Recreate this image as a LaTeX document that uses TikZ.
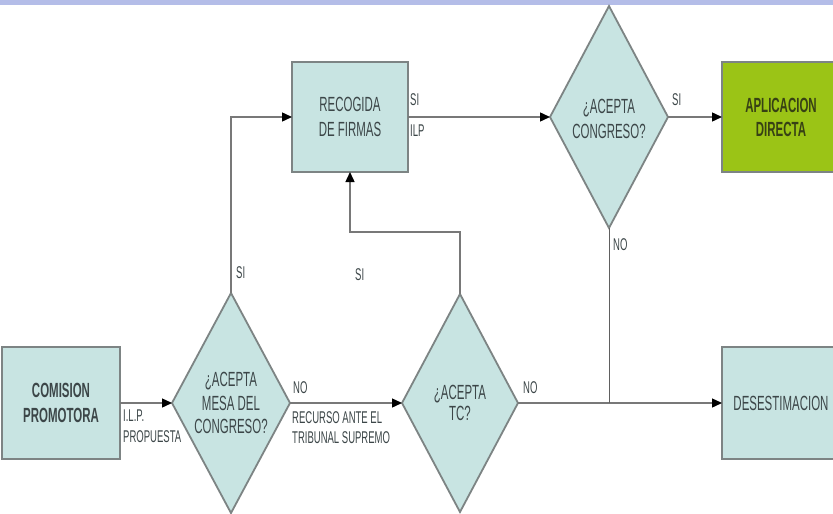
\documentclass[tikz,border=0pt]{standalone}
\usepackage{fontspec}
\setmainfont{Liberation Sans}[FakeStretch=0.56]
\usetikzlibrary{shapes.geometric,arrows.meta}
\definecolor{boxfill}{RGB}{200,228,226}
\definecolor{boxline}{RGB}{125,132,132}
\definecolor{txt}{RGB}{60,70,72}
\definecolor{greenfill}{RGB}{155,196,22}
\definecolor{greentxt}{RGB}{55,65,20}
\definecolor{band}{RGB}{180,189,232}
\definecolor{wirec}{RGB}{120,120,120}
\begin{document}
\begin{tikzpicture}[x=1pt,y=-1pt,
 box/.style={rectangle,draw=boxline,line width=2.2pt,fill=boxfill,inner sep=0pt,outer sep=0pt,align=center,text=txt,font=\fontsize{20.5}{25}\selectfont},
 dec/.style={diamond,draw=boxline,line width=1.8pt,fill=boxfill,inner sep=0pt,outer sep=0pt},
 dectext/.style={align=center,inner sep=0pt,text=txt,font=\fontsize{20.5}{23.5}\selectfont},
 lbl/.style={anchor=west,inner sep=0pt,text=txt,font=\fontsize{17}{20}\selectfont,align=left},
 wire/.style={draw=wirec,line width=1.4pt},
 thinwire/.style={draw=wirec!80!black,line width=1pt},
 arr/.style={wire,-{Triangle[length=10pt,width=9pt,color=black]}}
]
\useasboundingbox (0,0) rectangle (833,514);
\clip (0,0) rectangle (833,514);
\fill[white] (0,0) rectangle (833,514);
\fill[band] (0,0) rectangle (833,5);

% boxes
\node[box,minimum width=118pt,minimum height=112pt,font=\fontsize{20.5}{25}\selectfont\bfseries] (com) at (61,403) {COMISION\\PROMOTORA};
\node[box,minimum width=116pt,minimum height=110pt] (rec) at (350,117) {RECOGIDA\\DE FIRMAS};
\node[box,fill=greenfill,text=greentxt,minimum width=118pt,minimum height=110pt,font=\fontsize{20.5}{24}\selectfont\bfseries] (apl) at (781,117) {APLICACION\\DIRECTA};
\node[box,minimum width=118pt,minimum height=112pt] (des) at (781,403) {DESESTIMACION};

% decisions
\node[dec,minimum width=118pt,minimum height=220pt] (mesa) at (231,403) {};
\node[dectext] (mesat) at (mesa.center) {¿ACEPTA\\MESA DEL\\CONGRESO?};
\node[dec,minimum width=116pt,minimum height=218pt] (tc) at (460,403) {};
\node[dectext,font=\fontsize{20.5}{21}\selectfont] (tct) at (tc.center) {¿ACEPTA\\TC?};
\node[dec,minimum width=118pt,minimum height=222pt] (cong) at (609,117) {};
\node[dectext,font=\fontsize{20.5}{25}\selectfont] (congt) at ([yshift=-2pt]cong.center) {¿ACEPTA\\CONGRESO?};

% connectors
\draw[arr] (com.east) -- (mesa.west);
\draw[arr] (mesa.east) -- (tc.west);
\draw[arr] (tc.east) -- (des.west);
\draw[arr] (mesa.north) |- (rec.west);
\draw[arr] (rec.east) -- (cong.west);
\draw[arr] (cong.east) -- (apl.west);
\coordinate (k) at (0,232);
\draw[arr] (tc.north) -- (tc.north |- k) -| (rec.south);
\coordinate (j) at (cong.south |- tc.east);
\draw[thinwire] (cong.south) -- (j);

% labels
\node[lbl] (l1) at (123,416) {I.L.P.};
\node[lbl] (l2) at (123,437) {PROPUESTA};
\node[lbl] (l3) at (293,388) {NO};
\node[lbl] (l4) at (292,418) {RECURSO ANTE EL};
\node[lbl] (l5) at (292,438) {TRIBUNAL SUPREMO};
\node[lbl] (l6) at (236,273) {SI};
\node[lbl] (l7) at (355,275) {SI};
\node[lbl] (l8) at (410,100) {SI};
\node[lbl] (l9) at (410,131) {ILP};
\node[lbl] (l10) at (672,100) {SI};
\node[lbl] (l11) at (523,388) {NO};
\node[lbl] (l12) at (613,245) {NO};
\end{tikzpicture}
\end{document}
